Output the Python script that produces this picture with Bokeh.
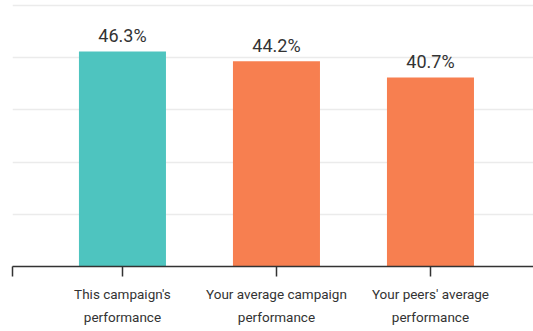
from bokeh.plotting import figure
from bokeh.models import ColumnDataSource, LinearAxis, FixedTicker, Range1d, Grid
from bokeh.core.properties import value
from bokeh.embed import file_html
from bokeh.resources import INLINE

# Chart data
label_line1 = ["This campaign's", "Your average campaign", "Your peers' average"]
label_line2 = ["performance", "performance", "performance"]
rates = [46.3, 44.2, 40.7]
bar_colors = ["#4EC4BF", "#F77F50", "#F77F50"]

positions = list(range(len(rates)))
source = ColumnDataSource(dict(
    x=positions,
    top=rates,
    color=bar_colors,
    label=[f"{r}%" for r in rates],
))

grid_step = 11.24
grid_ticks = [i * grid_step for i in range(6)]
y_end = 57.3
x_start, x_end = -0.714, 2.669

p = figure(
    width=533, height=331,
    x_range=Range1d(x_start, x_end), y_range=Range1d(0, y_end),
    x_axis_type=None, y_axis_type=None,
    output_backend="svg", toolbar_location=None,
    min_border_left=12, min_border_right=0, min_border_top=0, min_border_bottom=65,
)
p.outline_line_color = None
p.background_fill_color = "white"
p.border_fill_color = "white"

# horizontal gridlines
grid = Grid(dimension=1, ticker=FixedTicker(ticks=grid_ticks))
grid.grid_line_color = "#EBEBEB"
grid.grid_line_width = 1.5
p.add_layout(grid)

p.vbar(x="x", top="top", width=0.565, color="color", source=source, line_color=None)

p.text(x="x", y="top", text="label", source=source,
       text_font=value("Roboto"), text_font_size="18px", text_color="#333333",
       text_align="center", text_baseline="alphabetic", y_offset=-16)

font = "Roboto"

# first line of category labels, with the axis line and ticks
ax1 = LinearAxis(ticker=FixedTicker(ticks=[x_start] + positions))
ax1.major_label_overrides = {x_start: ""} | {i: t for i, t in zip(positions, label_line1)}
ax1.axis_line_color = "#333333"
ax1.axis_line_width = 1.5
ax1.major_tick_line_color = "#333333"
ax1.major_tick_line_width = 1.5
ax1.major_tick_out = 10
ax1.major_tick_in = 0
ax1.minor_tick_line_color = None
ax1.major_label_standoff = 9
ax1.major_label_text_font = font
ax1.major_label_text_font_size = "13.5px"
ax1.major_label_text_color = "#333333"
p.add_layout(ax1, "below")

# second line of category labels
ax2 = LinearAxis(ticker=FixedTicker(ticks=positions))
ax2.major_label_overrides = {i: t for i, t in zip(positions, label_line2)}
ax2.axis_line_color = None
ax2.major_tick_line_color = None
ax2.minor_tick_line_color = None
ax2.major_tick_out = 0
ax2.major_tick_in = 0
ax2.major_label_standoff = 4
ax2.major_label_text_font = font
ax2.major_label_text_font_size = "13.5px"
ax2.major_label_text_color = "#333333"
p.add_layout(ax2, "below")

open("out.html", "w").write(file_html(p, INLINE))
